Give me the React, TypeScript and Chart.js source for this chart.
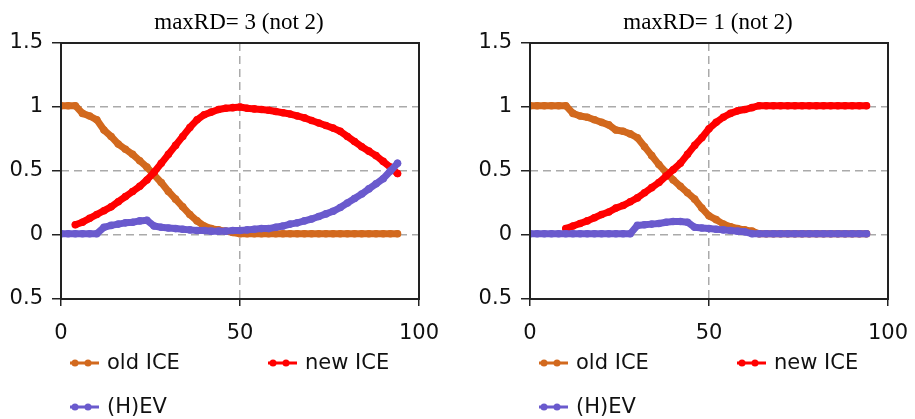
import { useEffect, useRef } from "react";
import { Chart, registerables } from "chart.js";

Chart.register(...registerables);

// x positions of the sampled points (every 2 time steps)
const xValues = [0, 2, 4, 6, 8, 10, 12, 14, 16, 18, 20, 22, 24, 26, 28, 30, 32, 34, 36, 38, 40, 42, 44, 46, 48, 50, 52, 54, 56, 58, 60, 62, 64, 66, 68, 70, 72, 74, 76, 78, 80, 82, 84, 86, 88, 90, 92, 94];

// Left panel: maxRD = 3
const leftOldICE = [1.01, 1.01, 1.01, 0.95, 0.93, 0.9, 0.82, 0.77, 0.71, 0.67, 0.63, 0.58, 0.53, 0.47, 0.41, 0.34, 0.28, 0.22, 0.16, 0.11, 0.07, 0.05, 0.04, 0.03, 0.02, 0.01, 0.01, 0.01, 0.01, 0.01, 0.01, 0.01, 0.01, 0.01, 0.01, 0.01, 0.01, 0.01, 0.01, 0.01, 0.01, 0.01, 0.01, 0.01, 0.01, 0.01, 0.01, 0.01];
const leftNewICE = [null, null, 0.08, 0.1, 0.13, 0.16, 0.19, 0.22, 0.26, 0.3, 0.34, 0.38, 0.43, 0.49, 0.56, 0.63, 0.7, 0.77, 0.84, 0.9, 0.94, 0.96, 0.98, 0.99, 0.995, 1.0, 0.99, 0.985, 0.98, 0.975, 0.965, 0.955, 0.945, 0.93, 0.915, 0.895, 0.875, 0.855, 0.835, 0.81, 0.77, 0.73, 0.69, 0.655, 0.62, 0.575, 0.53, 0.48];
const leftHEV = [0.01, 0.01, 0.01, 0.01, 0.01, 0.01, 0.06, 0.075, 0.085, 0.095, 0.1, 0.11, 0.115, 0.07, 0.06, 0.055, 0.05, 0.045, 0.04, 0.035, 0.035, 0.03, 0.03, 0.03, 0.035, 0.035, 0.04, 0.045, 0.05, 0.05, 0.06, 0.07, 0.085, 0.095, 0.11, 0.125, 0.145, 0.165, 0.185, 0.215, 0.25, 0.285, 0.32, 0.36, 0.4, 0.44, 0.5, 0.56];

// Right panel: maxRD = 1
const rightOldICE = [1.01, 1.01, 1.01, 1.01, 1.01, 1.01, 0.95, 0.93, 0.92, 0.9, 0.88, 0.86, 0.82, 0.81, 0.79, 0.76, 0.69, 0.62, 0.55, 0.49, 0.43, 0.38, 0.33, 0.28, 0.21, 0.15, 0.12, 0.085, 0.065, 0.05, 0.04, 0.03, 0.01, 0.01, 0.01, 0.01, 0.01, 0.01, 0.01, 0.01, 0.01, 0.01, 0.01, 0.01, 0.01, 0.01, 0.01, 0.01];
const rightNewICE = [null, null, null, null, null, 0.05, 0.07, 0.09, 0.11, 0.135, 0.16, 0.18, 0.21, 0.23, 0.26, 0.29, 0.33, 0.37, 0.41, 0.46, 0.51, 0.56, 0.63, 0.7, 0.76, 0.83, 0.88, 0.92, 0.95, 0.97, 0.98, 0.995, 1.01, 1.01, 1.01, 1.01, 1.01, 1.01, 1.01, 1.01, 1.01, 1.01, 1.01, 1.01, 1.01, 1.01, 1.01, 1.01];
const rightHEV = [0.01, 0.01, 0.01, 0.01, 0.01, 0.01, 0.01, 0.01, 0.01, 0.01, 0.01, 0.01, 0.01, 0.01, 0.01, 0.075, 0.08, 0.085, 0.09, 0.1, 0.105, 0.105, 0.1, 0.06, 0.055, 0.05, 0.045, 0.04, 0.035, 0.03, 0.025, 0.01, 0.01, 0.01, 0.01, 0.01, 0.01, 0.01, 0.01, 0.01, 0.01, 0.01, 0.01, 0.01, 0.01, 0.01, 0.01, 0.01];

const seriesNames = ["old ICE", "new ICE", "(H)EV"];
const seriesColors = ["#d2691e", "#ff0000", "#6a5acd"];
const titles = ["maxRD= 3 (not 2)", "maxRD= 1 (not 2)"];
const xTickValues = [0, 50, 100];
const xTickLabels = ["0", "50", "100"];
const yTickLabels = ["0.5", "0", "0.5", "1", "1.5"];

const TICK_FONT = { family: "'DejaVu Sans', sans-serif", size: 21 };

type PanelCfg = {
  title: string;
  series: (number | null)[][];
  width: number;
  yAxisWidth: number;
  padRight: number;
};

function makeDecor(title: string) {
  return {
    id: "decor",
    afterDraw(chart: any) {
      const { ctx, chartArea: a } = chart;
      ctx.save();
      ctx.strokeStyle = "#222";
      ctx.lineWidth = 2;
      ctx.setLineDash([]);
      ctx.strokeRect(a.left, a.top, a.right - a.left, a.bottom - a.top);

      ctx.fillStyle = "#000";
      ctx.font = "23px 'Liberation Serif', serif";
      ctx.textAlign = "center";
      ctx.textBaseline = "alphabetic";
      ctx.fillText(title, (a.left + a.right) / 2 - 1, 29);

      const slots = [
        { dx: 9, y: 363 },
        { dx: 207, y: 363 },
        { dx: 9, y: 407 },
      ];
      ctx.font = "21px 'DejaVu Sans', sans-serif";
      ctx.textAlign = "left";
      ctx.textBaseline = "middle";
      seriesNames.forEach((name, i) => {
        const s = slots[i];
        const x0 = a.left + s.dx;
        ctx.strokeStyle = seriesColors[i];
        ctx.fillStyle = seriesColors[i];
        ctx.lineWidth = 3;
        ctx.beginPath();
        ctx.moveTo(x0, s.y);
        ctx.lineTo(x0 + 29, s.y);
        ctx.stroke();
        [x0 + 5, x0 + 18].forEach((cx) => {
          ctx.beginPath();
          ctx.arc(cx, s.y, 3.5, 0, Math.PI * 2);
          ctx.fill();
        });
        ctx.fillStyle = "#111";
        ctx.fillText(name, x0 + 37, s.y + 1);
      });
      ctx.restore();
    },
  };
}

function Panel({ cfg }: { cfg: PanelCfg }) {
  const ref = useRef<HTMLCanvasElement | null>(null);
  useEffect(() => {
    if (!ref.current) return;
    const order = [2, 1, 0];
    const datasets = cfg.series.map((vals, i) => ({
      label: seriesNames[i],
      data: xValues.map((x, j) => ({ x, y: vals[j] })),
      borderColor: seriesColors[i],
      backgroundColor: seriesColors[i],
      borderWidth: 7,
      borderCapStyle: "round",
      borderJoinStyle: "round",
      pointRadius: 3.8,
      pointBorderWidth: 0,
      pointBackgroundColor: seriesColors[i],
      spanGaps: false,
      tension: 0,
      order: order[i],
    }));
    const chart = new Chart(ref.current, {
      type: "line",
      data: { datasets },
      plugins: [makeDecor(cfg.title)],
      options: {
        animation: false,
        responsive: false,
        maintainAspectRatio: false,
        layout: { padding: { left: 0, right: cfg.padRight, top: 43, bottom: 0 } },
        plugins: { legend: { display: false }, title: { display: false }, tooltip: { enabled: false } },
        scales: {
          x: {
            type: "linear",
            min: 0,
            max: 100,
            afterBuildTicks: (scale: any) => {
              scale.ticks = xTickValues.map((v) => ({ value: v }));
            },
            afterFit: (scale: any) => {
              scale.height = 120;
              scale.paddingLeft = 0;
              scale.paddingRight = 0;
            },
            ticks: {
              color: "#111",
              font: TICK_FONT,
              padding: 15,
              maxRotation: 0,
              autoSkip: false,
              callback: (value: any) => {
                const k = xTickValues.indexOf(Number(value));
                return k >= 0 ? xTickLabels[k] : "";
              },
            },
            grid: {
              color: (c: any) => (c.tick && c.tick.value === 50 ? "#aaaaaa" : "rgba(0,0,0,0)"),
              lineWidth: 1.5,
              tickColor: "#222",
              tickLength: 7,
              tickWidth: 1.5,
            },
            border: { display: false, dash: [8, 5] },
          },
          y: {
            type: "linear",
            min: -0.5,
            max: 1.5,
            afterFit: (scale: any) => {
              scale.width = cfg.yAxisWidth;
              scale.paddingTop = 0;
              scale.paddingBottom = 0;
            },
            ticks: {
              stepSize: 0.5,
              color: "#111",
              font: TICK_FONT,
              padding: 9,
              callback: (_v: any, index: number) => yTickLabels[index],
            },
            grid: {
              color: (c: any) => {
                const v = c.tick ? c.tick.value : null;
                return v === 0 || v === 0.5 || v === 1 ? "#aaaaaa" : "rgba(0,0,0,0)";
              },
              lineWidth: 1.5,
              tickColor: "#222",
              tickLength: 9,
              tickWidth: 1.5,
            },
            border: { display: false, dash: [8, 5] },
          },
        },
      },
    } as any);
    return () => chart.destroy();
  }, [cfg]);
  return <canvas ref={ref} width={cfg.width} height={419} style={{ display: "block" }} />;
}

const leftCfg: PanelCfg = {
  title: titles[0],
  series: [leftOldICE, leftNewICE, leftHEV],
  width: 457,
  yAxisWidth: 61,
  padRight: 38,
};
const rightCfg: PanelCfg = {
  title: titles[1],
  series: [rightOldICE, rightNewICE, rightHEV],
  width: 458,
  yAxisWidth: 73,
  padRight: 27,
};

export default function App() {
  return (
    <div
      style={{
        position: "absolute",
        left: 0,
        top: 0,
        width: 915,
        height: 419,
        display: "flex",
        background: "#fff",
      }}
    >
      <Panel cfg={leftCfg} />
      <Panel cfg={rightCfg} />
    </div>
  );
}
